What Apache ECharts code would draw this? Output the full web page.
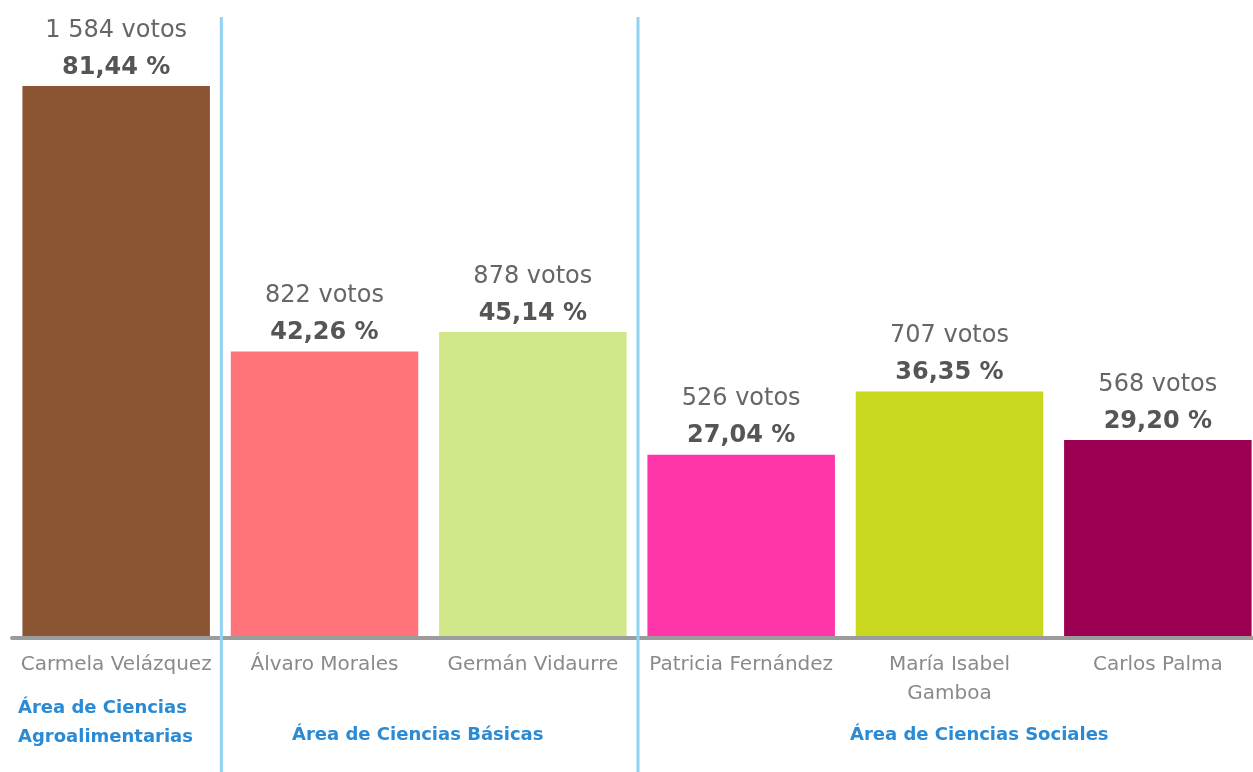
<!DOCTYPE html>
<html>
<head>
<meta charset="utf-8">
<script src="https://cdn.jsdelivr.net/npm/echarts@6/dist/echarts.min.js"></script>
<style>
html,body{margin:0;padding:0;background:#fff;}
#chart{width:1253px;height:772px;}
</style>
</head>
<body>
<div id="chart"></div>
<script>
const categories = ['Carmela Velázquez', 'Álvaro Morales', 'Germán Vidaurre', 'Patricia Fernández', 'María Isabel\nGamboa', 'Carlos Palma'];
const votes = ['1 584', '822', '878', '526', '707', '568'];
const percentages = [81.44, 42.26, 45.14, 27.04, 36.35, 29.20];
const groupLabels = ['Área de Ciencias\nAgroalimentarias', 'Área de Ciencias Básicas', 'Área de Ciencias Sociales'];
const groupBoundaries = [1, 3];

const barColors = ['#8B5534', '#FF737A', '#D0E88A', '#FF36AA', '#C8D81E', '#9C0052'];
const FONT = 'DejaVu Sans';

const chart = echarts.init(document.getElementById('chart'));

const fmtPct = v => v.toFixed(2).replace('.', ',');

chart.setOption({
  animation: false,
  backgroundColor: '#ffffff',
  textStyle: { fontFamily: FONT },
  grid: [
    { left: 12, width: 1250, top: 86, height: 552, containLabel: false, outerBoundsMode: 'none' },
    { left: 13, width: 1250, top: 17, bottom: 0, containLabel: false, outerBoundsMode: 'none' }
  ],
  xAxis: [
    {
      type: 'category', gridIndex: 0, data: categories,
      axisLine: { show: true, lineStyle: { color: '#9c9c9c', width: 4 } },
      axisTick: { show: false },
      axisLabel: { interval: 0, color: '#8a8a8a', fontSize: 20, fontFamily: FONT, margin: 12, lineHeight: 29 },
      z: 3
    },
    { type: 'value', gridIndex: 1, min: 0, max: 6, show: false }
  ],
  yAxis: [
    { type: 'value', gridIndex: 0, min: 0, max: 81.44, show: false },
    { type: 'value', gridIndex: 1, min: 0, max: 1, show: false }
  ],
  series: [
    {
      type: 'bar', xAxisIndex: 0, yAxisIndex: 0,
      barCategoryGap: '10%',
      data: percentages.map((p, i) => ({ value: p, itemStyle: { color: barColors[i] } })),
      label: {
        show: true, position: 'top', distance: 0,
        formatter: params => '{v|' + votes[params.dataIndex] + ' votos}\n{p|' + fmtPct(params.value) + ' %}',
        rich: {
          v: { color: '#666666', fontSize: 24, fontFamily: FONT, lineHeight: 37 },
          p: { color: '#555555', fontSize: 24, fontFamily: FONT, fontWeight: 'bold', lineHeight: 37 }
        }
      },
      z: 2
    },
    ...groupBoundaries.map(b => ({
      type: 'line', xAxisIndex: 1, yAxisIndex: 1,
      data: [[b, 0], [b, 1]],
      symbol: 'none',
      lineStyle: { color: '#8ed3f2', width: 3 },
      z: 5, silent: true
    }))
  ],
  graphic: [
    { type: 'text', left: 18, top: 694, style: { text: groupLabels[0], fill: '#2a8ad4', font: 'bold 18px "DejaVu Sans"', lineHeight: 29 } },
    { type: 'text', left: 292, top: 726, style: { text: groupLabels[1], fill: '#2a8ad4', font: 'bold 18px "DejaVu Sans"' } },
    { type: 'text', left: 850, top: 726, style: { text: groupLabels[2], fill: '#2a8ad4', font: 'bold 18px "DejaVu Sans"' } }
  ]
});
</script>
</body>
</html>
